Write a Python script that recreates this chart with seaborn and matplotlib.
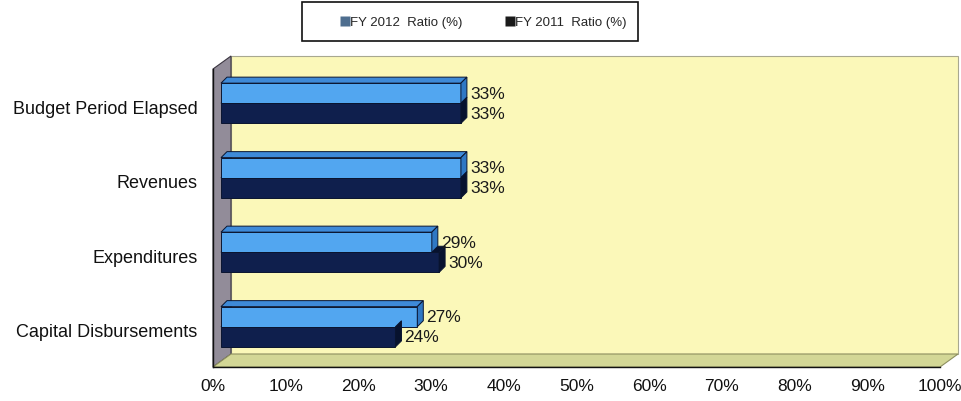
import matplotlib
matplotlib.use("Agg")
import matplotlib.pyplot as plt
import seaborn as sns
import pandas as pd
from matplotlib.patches import Polygon, Rectangle
from matplotlib.transforms import IdentityTransform, offset_copy
from matplotlib.lines import Line2D

# ---- data ----
categories = ["Budget Period Elapsed", "Revenues", "Expenditures", "Capital Disbursements"]
series = ["FY 2012  Ratio (%)", "FY 2011  Ratio (%)"]
fy2012 = [33, 33, 29, 27]
fy2011 = [33, 33, 30, 24]
x_ticks = [0, 10, 20, 30, 40, 50, 60, 70, 80, 90, 100]
x_tick_labels = [f"{t}%" for t in x_ticks]

df = pd.DataFrame({
    "category": categories * 2,
    "series": [series[0]] * len(categories) + [series[1]] * len(categories),
    "value": fy2012 + fy2011,
})

# ---- style ----
light_front, light_side, light_top = "#52A6F0", "#2F78C4", "#3E8AD8"
dark_front, dark_side = "#0F1F4D", "#07122E"
wall_back, wall_left, floor_col = "#FBF8B9", "#928C99", "#D3D796"

sns.set_theme(style="white")
plt.rcParams["font.family"] = ["Liberation Sans", "DejaVu Sans"]

W, H = 962, 402
fig = plt.figure(figsize=(W / 100, H / 100), dpi=100)
ax = fig.add_axes([213 / W, 34 / H, 727 / W, 298 / H])
ax.patch.set_visible(False)

sns.barplot(data=df, y="category", x="value", hue="series",
            order=categories, hue_order=series,
            palette=[light_front, dark_front], orient="h",
            width=0.54, dodge=True, saturation=1, legend=False,
            edgecolor="#0A1530", linewidth=0.7, ax=ax, zorder=3)

ax.set_xlim(0, 100)
ax.set_ylim(3.5, -0.5)
ax.set_xlabel("")
ax.set_ylabel("")

# ---- 3-D box: back wall, left wall, floor (pixel depth offset) ----
dx, dy = 18, 13
x0, y0, x1, y1 = ax.bbox.extents
ident = IdentityTransform()
back = Polygon([(x0 + dx, y0 + dy), (x1 + dx, y0 + dy), (x1 + dx, y1 + dy), (x0 + dx, y1 + dy)],
               closed=True, facecolor=wall_back, edgecolor="#A8A890", lw=0.8,
               transform=ident, zorder=-3)
left = Polygon([(x0, y0), (x0, y1), (x0 + dx, y1 + dy), (x0 + dx, y0 + dy)],
               closed=True, facecolor=wall_left, edgecolor="#3A3540", lw=0.8,
               transform=ident, zorder=-2)
floor = Polygon([(x0, y0), (x1, y0), (x1 + dx, y0 + dy), (x0 + dx, y0 + dy)],
                closed=True, facecolor=floor_col, edgecolor="#8E9060", lw=0.8,
                transform=ident, zorder=-2)
for p in (back, left, floor):
    fig.add_artist(p)

# ---- bars: shift into the box and add top / end faces ----
shift = offset_copy(ax.transData, fig=fig, x=8, y=3, units="dots")
bd = 6  # bar depth in pixels
fills = [(light_top, light_side), (dark_side, dark_side)]
for container, (top_c, side_c), vals in zip(ax.containers, fills, [fy2012, fy2011]):
    for bar, v in zip(container, vals):
        bar.set_transform(shift)
        bx, by, bw, bh = bar.get_x(), bar.get_y(), bar.get_width(), bar.get_height()
        (lx, ly_a), (rx, ly_b) = shift.transform([(bx, by), (bx + bw, by + bh)])
        top_y, bot_y = max(ly_a, ly_b), min(ly_a, ly_b)
        topface = Polygon([(lx, top_y), (rx, top_y), (rx + bd, top_y + bd), (lx + bd, top_y + bd)],
                          closed=True, facecolor=top_c, edgecolor="#0A1530", lw=0.7,
                          transform=ident, zorder=2, clip_on=False)
        endface = Polygon([(rx, bot_y), (rx, top_y), (rx + bd, top_y + bd), (rx + bd, bot_y + bd)],
                          closed=True, facecolor=side_c, edgecolor="#0A1530", lw=0.7,
                          transform=ident, zorder=4, clip_on=False)
        ax.add_artist(topface)
        ax.add_artist(endface)
        lab = offset_copy(ax.transData, fig=fig, x=8 + bd + 3, y=3, units="dots")
        ax.text(v, by + bh / 2, f"{v}%", transform=lab, ha="left", va="center",
                fontsize=12.5, color="#1A1A1A", zorder=5)

# ---- axes ----
for s in ("top", "right"):
    ax.spines[s].set_visible(False)
for s in ("left", "bottom"):
    ax.spines[s].set_color("#111111")
    ax.spines[s].set_linewidth(1.0)
    ax.spines[s].set_zorder(6)
ax.set_xticks(x_ticks)
ax.set_xticklabels(x_tick_labels, fontsize=12.5, color="#111111")
ax.tick_params(axis="x", direction="out", length=4, width=1, color="#111111", pad=4)
ax.set_yticks(range(len(categories)))
ax.set_yticklabels(categories, fontsize=13, color="#111111")
ax.tick_params(axis="y", which="major", length=0, pad=11)
ax.set_yticks([i - 0.5 for i in range(len(categories) + 1)], minor=True)
ax.tick_params(axis="y", which="minor", direction="out", length=4, width=1, color="#111111")

# ---- legend ----
box = Rectangle((302, H - 42), 336, 39, facecolor="white", edgecolor="#111111",
                lw=1.2, transform=ident, zorder=5)
fig.add_artist(box)
handles = [Line2D([], [], marker="s", linestyle="none", markersize=6.5,
                  markerfacecolor="#4E6E8F", markeredgecolor="none"),
           Line2D([], [], marker="s", linestyle="none", markersize=6.5,
                  markerfacecolor="#1A1A1A", markeredgecolor="none")]
leg = fig.legend(handles, series, loc="center", bbox_to_anchor=(484 / W, 1 - 23 / H),
                 ncol=2, frameon=False, fontsize=9.5, handlelength=0.6,
                 handletextpad=0.1, columnspacing=3.3)
leg.set_zorder(6)

fig.savefig("out.png", dpi=100)
